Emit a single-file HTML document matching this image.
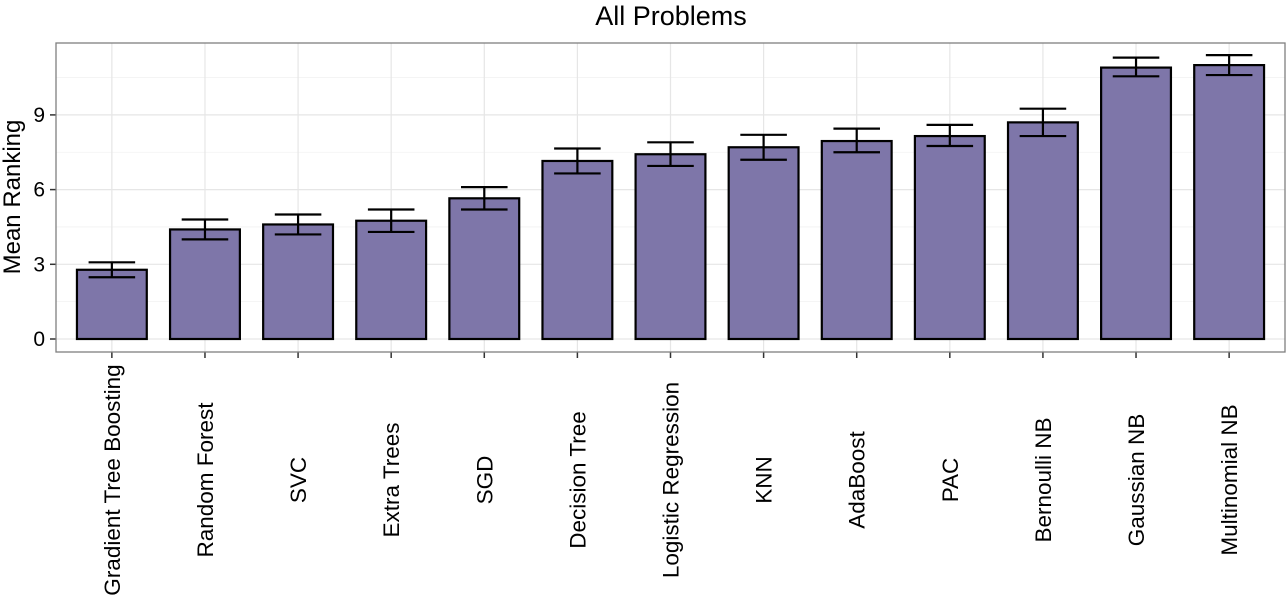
<!DOCTYPE html>
<html><head><meta charset="utf-8"><style>
body{margin:0;background:#fff;}
svg text{font-family:"Liberation Sans",Arial,sans-serif;}
</style></head><body>
<svg id="chart" width="1288" height="598" xmlns="http://www.w3.org/2000/svg">
<text x="671" y="25" font-size="27" text-anchor="middle">All Problems</text>
<text transform="translate(20,197) rotate(-90)" font-size="24" text-anchor="middle">Mean Ranking</text>
<g id="grid"></g><g id="bars"></g><g id="axes"></g>
</svg>
<script>
const categories=["Gradient Tree Boosting","Random Forest","SVC","Extra Trees","SGD","Decision Tree","Logistic Regression","KNN","AdaBoost","PAC","Bernoulli NB","Gaussian NB","Multinomial NB"];
const means=[2.78,4.4,4.6,4.75,5.65,7.15,7.42,7.7,7.95,8.15,8.7,10.9,11.0];
const lower=[2.48,4.0,4.2,4.3,5.2,6.65,6.95,7.2,7.5,7.75,8.15,10.55,10.6];
const upper=[3.08,4.8,5.0,5.2,6.1,7.65,7.9,8.2,8.45,8.6,9.25,11.3,11.4];
const yTicks=[0,3,6,9];
const NS="http://www.w3.org/2000/svg";
const L=56,R=1285,T=43,B=352;
const y0=339,pu=24.9;
const y=v=>y0-v*pu;
const step=(R-L)/(categories.length+0.2);
const x=i=>L+step*(0.6+i);
function mk(tag,attrs,parent){const e=document.createElementNS(NS,tag);for(const k in attrs)e.setAttribute(k,attrs[k]);parent.appendChild(e);return e;}
const grid=document.getElementById('grid'),bars=document.getElementById('bars'),axes=document.getElementById('axes');
const bg=mk('rect',{x:L,y:T,width:R-L,height:B-T,fill:'#fff'},grid);


for(let v=-1.5;v<=12;v+=1.5){const yy=y(v);if(yy<T||yy>B)continue;
 mk('line',{x1:L,x2:R,y1:yy,y2:yy,stroke:v%3===0?'#e6e6e6':'#f2f2f2','stroke-width':v%3===0?1.2:0.8},grid);}
categories.forEach((c,i)=>{mk('line',{x1:x(i),x2:x(i),y1:T,y2:B,stroke:'#e6e6e6','stroke-width':1.2},grid);});
const bw=step*0.75,ew=step*0.5;
categories.forEach((c,i)=>{
 const b=mk('rect',{x:x(i)-bw/2,y:y(means[i]),width:bw,height:y(0)-y(means[i]),fill:'#7e76a9',stroke:'#000','stroke-width':2.2},bars);
 
 
 const g=mk('g',{stroke:'#000','stroke-width':2.2},bars);
 
 
 mk('line',{x1:x(i),x2:x(i),y1:y(lower[i]),y2:y(upper[i])},g);
 mk('line',{x1:x(i)-ew/2,x2:x(i)+ew/2,y1:y(lower[i]),y2:y(lower[i])},g);
 mk('line',{x1:x(i)-ew/2,x2:x(i)+ew/2,y1:y(upper[i]),y2:y(upper[i])},g);
 mk('line',{x1:x(i),x2:x(i),y1:B,y2:B+6,stroke:'#333','stroke-width':1.5},axes);
 const t=mk('text',{transform:`translate(${x(i)+8},480) rotate(-90)`,'font-size':22.5,'text-anchor':'middle',fill:'#000'},axes);
 t.textContent=c;
 
 
});
yTicks.forEach(v=>{
 mk('line',{x1:L-6,x2:L,y1:y(v),y2:y(v),stroke:'#333','stroke-width':1.5},axes);
 const t=mk('text',{x:L-11,y:y(v)+7,'font-size':21,'text-anchor':'end'},axes);
 t.textContent=v;
 
 
});
const bd=mk('rect',{x:L,y:T,width:R-L,height:B-T,fill:'none',stroke:'#7f7f7f','stroke-width':1.3},axes);


</script>
</body></html>
